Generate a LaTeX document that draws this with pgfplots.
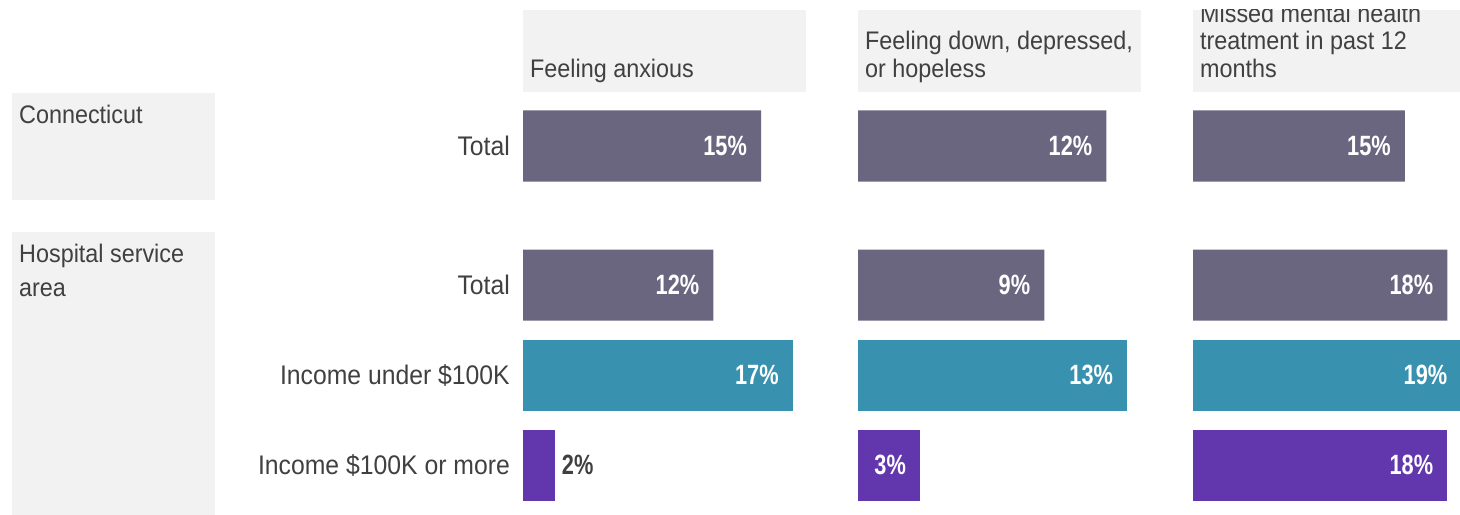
\documentclass[border=0pt]{standalone}
\usepackage{pgfplots}
\pgfplotsset{compat=1.18}
\usepackage{fontspec}
\setmainfont{Liberation Sans}[FakeStretch=0.92]
\newfontfamily\valfont{Liberation Sans}[FakeStretch=0.78]
\definecolor{cgrey}{HTML}{6B6680}
\definecolor{cteal}{HTML}{3891AF}
\definecolor{cpurp}{HTML}{6237AD}
\definecolor{cbox}{HTML}{F2F2F2}
\definecolor{ctext}{HTML}{404040}
\pgfplotsset{
  panel/.style={
    scale only axis, width=283bp, height=515bp, anchor=north west,
    ymin=-515, ymax=0, xmin=0,
    axis line style={draw=none}, xtick=\empty, ytick=\empty,
    major tick length=0pt, clip=false,
    /pgf/number format/assume math mode=true,
  },
  barin/.style={xbar, bar shift=0pt, bar width=71bp, draw=none, fill=#1,
    point meta=x,
    nodes near coords={\pgfmathprintnumber{\pgfplotspointmeta}\%},
    every node near coord/.append style={anchor=east, inner sep=0pt, xshift=-14bp, text=white,
      font=\fontsize{28}{30}\valfont\bfseries}},
  barout/.style={xbar, bar shift=0pt, bar width=71bp, draw=none, fill=#1,
    point meta=x,
    nodes near coords={\pgfmathprintnumber{\pgfplotspointmeta}\%},
    every node near coord/.append style={anchor=west, inner sep=0pt, xshift=7bp, text=ctext,
      font=\fontsize{28}{30}\valfont\bfseries}},
}
\begin{document}
\begin{tikzpicture}[x=1bp,y=1bp]
\useasboundingbox (0,0) rectangle (1460,-515);
\clip (0,0) rectangle (1460,-515);
% header boxes
\fill[cbox] (523,-10) rectangle (806,-92);
\fill[cbox] (858,-10) rectangle (1141,-92);
\fill[cbox] (1193,-10) rectangle (1478,-92);
% group boxes
\fill[cbox] (12,-93) rectangle (215,-200);
\fill[cbox] (12,-232) rectangle (215,-520);
\begin{scope}[every node/.style={anchor=base west, inner sep=0pt, text=ctext, font=\fontsize{25.5}{28}\selectfont}]
\node at (530,-78) {Feeling anxious};
\node at (865,-50) {Feeling down, depressed,};
\node at (865,-78) {or hopeless};
\begin{scope}
\clip (1193,-10) rectangle (1478,-92);
\node at (1200,-23) {Missed mental health};
\node at (1200,-50) {treatment in past 12};
\node at (1200,-78) {months};
\end{scope}
\node at (19,-124) {Connecticut};
\node at (19,-263) {Hospital service};
\node at (19,-296) {area};
\end{scope}
% Panel 1: Feeling anxious
\begin{axis}[panel, at={(523bp,0)}, xmax=17.83,
  ytick={-146,-285,-375,-465},
  yticklabels={Total,Total,Income under \$100K,Income \$100K or more},
  yticklabel style={anchor=base east, inner sep=0pt, xshift=-13bp, yshift=-9.5bp,
    text=ctext, font=\fontsize{27}{30}\selectfont}]
\addplot[barin=cgrey] coordinates {(15,-146) (12,-285)};
\addplot[barin=cteal] coordinates {(17,-375)};
\addplot[barout=cpurp] coordinates {(2,-465)};
\end{axis}
% Panel 2: Feeling down
\begin{axis}[panel, at={(858bp,0)}, xmax=13.67]
\addplot[barin=cgrey] coordinates {(12,-146) (9,-285)};
\addplot[barin=cteal] coordinates {(13,-375)};
\addplot[barin=cpurp] coordinates {(3,-465)};
\end{axis}
% Panel 3: Missed treatment
\begin{axis}[panel, at={(1193bp,0)}, xmax=20.03]
\addplot[barin=cgrey] coordinates {(15,-146) (18,-285)};
\addplot[barin=cteal] coordinates {(19,-375)};
\addplot[barin=cpurp] coordinates {(18,-465)};
\end{axis}
\end{tikzpicture}
\end{document}
